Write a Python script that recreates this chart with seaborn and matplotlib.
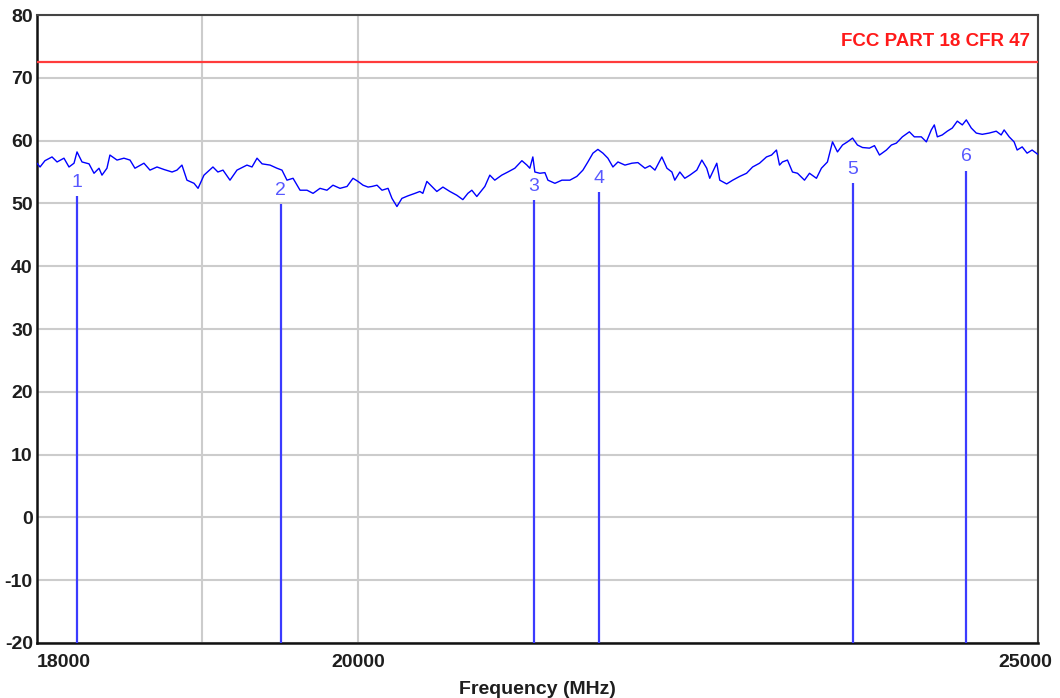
import pandas as pd
import seaborn as sns
import matplotlib.pyplot as plt
from matplotlib.ticker import FixedLocator, NullFormatter
from matplotlib.transforms import ScaledTranslation

freq_mhz = [18000, 18018, 18047, 18089, 18119, 18160, 18190, 18220, 18238, 18268,
            18310, 18340, 18370, 18388, 18418, 18436, 18479, 18521, 18558, 18588,
            18643, 18680, 18723, 18766, 18816, 18846, 18877, 18908, 18952, 18977,
            19014, 19070, 19101, 19133, 19177, 19221, 19253, 19284, 19316, 19348,
            19380, 19431, 19475, 19507, 19539, 19578, 19623, 19668, 19707, 19752,
            19797, 19836, 19882, 19928, 19967, 20000, 20033, 20066, 20092, 20125,
            20158, 20198, 20224, 20257, 20290, 20330, 20377, 20410, 20430, 20457,
            20491, 20524, 20565, 20612, 20659, 20700, 20734, 20761, 20795, 20829,
            20850, 20884, 20918, 20966, 21008, 21056, 21105, 21140, 21160, 21181,
            21195, 21230, 21265, 21286, 21335, 21384, 21440, 21489, 21532, 21567,
            21603, 21638, 21674, 21709, 21745, 21781, 21831, 21881, 21924, 21975,
            22011, 22047, 22097, 22134, 22170, 22191, 22228, 22264, 22301, 22352,
            22389, 22425, 22447, 22469, 22499, 22521, 22572, 22617, 22669, 22720,
            22765, 22817, 22869, 22907, 22944, 22967, 22989, 23027, 23065, 23103,
            23156, 23194, 23247, 23285, 23331, 23370, 23408, 23447, 23485, 23524,
            23562, 23601, 23655, 23694, 23733, 23787, 23826, 23865, 23912, 23967,
            24006, 24061, 24101, 24140, 24164, 24188, 24227, 24267, 24307, 24347,
            24387, 24419, 24459, 24499, 24547, 24603, 24660, 24700, 24724, 24765,
            24805, 24830, 24871, 24911, 24952, 25000]
level_db = [56.4, 55.8, 56.8, 57.4, 56.6, 57.2, 55.8, 56.4, 58.2, 56.6,
            56.3, 54.8, 55.6, 54.5, 55.6, 57.7, 56.9, 57.2, 56.9, 55.6,
            56.4, 55.3, 55.8, 55.4, 55.0, 55.3, 56.1, 53.7, 53.2, 52.4,
            54.5, 55.8, 55.0, 55.3, 53.7, 55.3, 55.7, 56.1, 55.8, 57.2,
            56.3, 56.1, 55.6, 55.3, 53.7, 54.0, 52.1, 52.1, 51.6, 52.4,
            52.1, 52.9, 52.4, 52.7, 54.0, 53.5, 52.9, 52.6, 52.7, 52.9,
            52.1, 52.4, 50.8, 49.5, 50.8, 51.2, 51.6, 51.9, 51.6, 53.5,
            52.7, 51.9, 52.6, 51.9, 51.3, 50.6, 51.6, 52.1, 51.1, 52.1,
            52.7, 54.5, 53.7, 54.5, 55.0, 55.6, 56.8, 56.1, 55.6, 57.4,
            55.0, 54.8, 54.9, 53.7, 53.2, 53.7, 53.7, 54.3, 55.3, 56.6,
            58.0, 58.6, 58.0, 57.2, 55.8, 56.6, 56.1, 56.4, 56.5, 55.6,
            56.0, 55.3, 57.4, 55.6, 55.0, 53.7, 55.0, 54.0, 54.5, 55.3,
            56.9, 55.6, 54.0, 55.0, 56.4, 53.7, 53.1, 53.7, 54.3, 54.8,
            55.8, 56.4, 57.4, 57.7, 58.5, 56.1, 56.6, 56.9, 55.0, 54.8,
            53.7, 54.8, 54.0, 55.6, 56.6, 59.8, 58.2, 59.3, 59.8, 60.4,
            59.3, 58.9, 58.8, 59.2, 57.7, 58.5, 59.3, 59.6, 60.6, 61.4,
            60.6, 60.6, 59.8, 61.7, 62.5, 60.6, 60.9, 61.5, 62.0, 63.1,
            62.5, 63.3, 62.0, 61.2, 61.0, 61.2, 61.5, 60.9, 61.7, 60.6,
            59.8, 58.5, 59.0, 58.0, 58.5, 57.8]

# peak markers
marker_id = ["1", "2", "3", "4", "5", "6"]
marker_freq = [18238, 19500, 21188, 21645, 23524, 24419]
marker_level = [51.2, 49.9, 50.5, 51.8, 53.2, 55.2]

limit_level = 72.5
limit_name = "FCC PART 18 CFR 47"

x_ticks = [18000, 20000, 25000]
x_minor = [19000]
y_ticks = list(range(-20, 81, 10))

df = pd.DataFrame({"freq": freq_mhz, "level": level_db})

sns.set_style("white")
plt.rcParams["font.family"] = ["Liberation Sans", "DejaVu Sans"]

fig = plt.figure(figsize=(10.6, 6.98), dpi=100)
ax = fig.add_axes([0.0349, 0.0788, 0.9443, 0.8997])
ax.set_xscale("log")
ax.set_xlim(18000, 25000)
ax.set_ylim(-20, 80)

ax.grid(True, axis="y", color="#cccccc", linewidth=1.5)
ax.xaxis.set_major_locator(FixedLocator(x_ticks))
ax.xaxis.set_minor_locator(FixedLocator(x_minor))
ax.xaxis.set_minor_formatter(NullFormatter())
ax.grid(True, axis="x", which="both", color="#cccccc", linewidth=1.5)
ax.set_axisbelow(True)

ax.axhline(limit_level, color="#ff3b3b", linewidth=1.6, zorder=3)
ax.text(0.992, limit_level + 1.9, limit_name, transform=ax.get_yaxis_transform(),
        ha="right", va="bottom", color="#ff1a1a", fontsize=13.5, fontweight="bold",
        family=["Liberation Sans Narrow", "Liberation Sans", "DejaVu Sans"])

sns.lineplot(data=df, x="freq", y="level", ax=ax, color="#0000ff", linewidth=1.0,
             estimator=None, sort=False, zorder=4)

ax.vlines(marker_freq, -20, marker_level, color="#3b3bff", linewidth=1.6, zorder=4)
for mid, mf, ml in zip(marker_id, marker_freq, marker_level):
    ax.text(mf, ml + 2.2, mid, ha="center", va="center", fontsize=14,
            color="#5858ff", zorder=5)

ax.set_xticks(x_ticks)
ax.set_xticklabels([str(t) for t in x_ticks], fontweight="bold", fontsize=14,
                   color="#1e1e1e")
ax.set_yticks(y_ticks)
ax.set_yticklabels([str(t) for t in y_ticks], fontweight="bold", fontsize=14,
                   color="#1e1e1e")
ax.tick_params(axis="both", which="both", length=0)
ax.tick_params(axis="y", pad=3)
ax.tick_params(axis="x", pad=8)

xl = ax.get_xticklabels()
xl[0].set_horizontalalignment("left")
xl[-1].set_horizontalalignment("right")
xl[-1].set_transform(xl[-1].get_transform() + ScaledTranslation(0.14, 0, fig.dpi_scale_trans))

ax.set_xlabel("Frequency (MHz)", fontweight="bold", fontsize=14, color="#1e1e1e",
              labelpad=7)
ax.set_ylabel("")

for side in ["left", "bottom"]:
    ax.spines[side].set_color("#111111")
    ax.spines[side].set_linewidth(1.8)
for side in ["top", "right"]:
    ax.spines[side].set_color("#444444")
    ax.spines[side].set_linewidth(1.5)

fig.savefig("out.png", dpi=100)
